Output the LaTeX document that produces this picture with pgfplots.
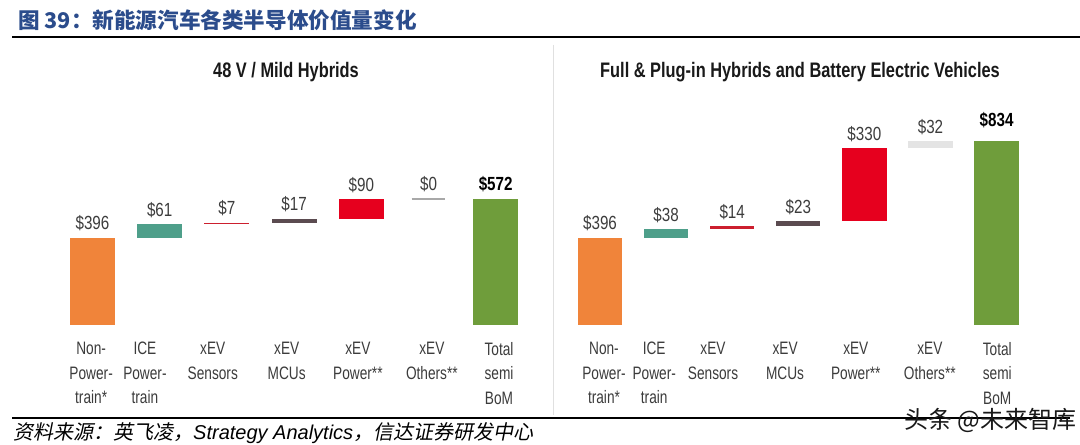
\documentclass[border=0pt]{standalone}
\usepackage{pgfplots}
\pgfplotsset{compat=1.18}
\usepackage{pgfplotstable}
\usepackage{fontspec}
\setmainfont{Liberation Sans}
\newfontfamily\cond{Liberation Sans}[FakeStretch=0.8]
\newfontfamily\condt{Liberation Sans}[FakeStretch=0.76]
\newfontfamily\condh{Liberation Sans}[FakeStretch=0.78]
\newfontfamily\cjk{Noto Sans CJK SC}
\newfontfamily\cjki{Noto Sans CJK SC}[FakeSlant=0.2]

\definecolor{cOrange}{HTML}{F0843A}
\definecolor{cTeal}{HTML}{4E9F8A}
\definecolor{cSens}{HTML}{CC1F2E}
\definecolor{cMcu}{HTML}{5B4B50}
\definecolor{cPow}{HTML}{E6001E}
\definecolor{cOthL}{HTML}{A8A8A8}
\definecolor{cOthR}{HTML}{E4E4E4}
\definecolor{cGreen}{HTML}{6F9D3B}
\definecolor{cHead}{HTML}{2B4C8C}
\definecolor{cTxt}{HTML}{3C3C3C}

% waterfall: base (invisible) + one delta column per category
\pgfplotstableread{
x base nonp ice sens mcu pow oth tot
0 0   396 0  0 0  0  0 0
1 396 0   61 0 0  0  0 0
2 457 0   0  7 0  0  0 0
3 464 0   0  0 17 0  0 0
4 481 0   0  0 0  90 0 0
5 571 0   0  0 0  0  0 0
6 0   0   0  0 0  0  0 572
}\leftdata
\pgfplotstableread{
x base nonp ice sens mcu pow oth tot
0 0   396 0  0  0  0   0  0
1 396 0   38 0  0  0   0  0
2 434 0   0  14 0  0   0  0
3 448 0   0  0  23 0   0  0
4 471 0   0  0  0  330 0  0
5 801 0   0  0  0  0   32 0
6 0   0   0  0  0  0   0  834
}\rightdata

\pgfplotsset{
  wfframe/.style={scale only axis, height=220.5bp, ymin=0, ymax=1000,
    xmin=-0.5, xmax=6.5, axis line style={draw=none}, tick style={draw=none},
    ytick=\empty, xtick=\empty, clip=false, anchor=south west},
  wfbars/.style={wfframe, ybar stacked, bar width=0.67},
  wflabs/.style={wfframe,
    xticklabel style={align=center, anchor=north, yshift=-17bp, inner sep=0pt,
      font=\condt\fontsize{18bp}{24.5bp}\selectfont, text=cTxt},
    xticklabels={{Non-\\Power-\\train*},{ICE\\Power-\\train},{xEV\\Sensors},{xEV\\MCUs},{xEV\\Power**},{xEV\\Others**},{Total\\semi\\BoM}}},
  vlab/.style={draw=none, mark=none, nodes near coords, point meta=explicit symbolic,
    nodes near coords style={anchor=base, yshift=8bp, inner sep=0pt,
      font=\cond\fontsize{19bp}{22bp}\selectfont, text=cTxt}},
  tlab/.style={draw=none, mark=none, nodes near coords, point meta=explicit symbolic,
    nodes near coords style={anchor=base, yshift=8bp, inner sep=0pt,
      font=\cond\bfseries\fontsize{19bp}{22bp}\selectfont, text=black}},
}

\begin{document}
\begin{tikzpicture}
\useasboundingbox (0bp,0bp) rectangle (1080bp,445bp);
\fill[white] (0bp,0bp) rectangle (1080bp,445bp);

% header
\node[anchor=west, inner sep=0pt, text=cHead, font=\cjk\bfseries\fontsize{21.6bp}{24bp}\selectfont] at (18bp,425bp) {图 39：新能源汽车各类半导体价值量变化};
\draw[line width=2.5bp, black] (12bp,408bp) -- (1080bp,408bp);
\draw[line width=2bp, black] (12bp,27bp) -- (1070bp,27bp);
\node[anchor=west, inner sep=0pt, text=black, font=\cjki\fontsize{20bp}{22bp}\selectfont] at (13bp,12bp) {资料来源：英飞凌，{\fontspec{Liberation Sans}\itshape\fontsize{20bp}{22bp}\selectfont Strategy Analytics}，信达证券研发中心};
% separator
\draw[line width=1bp, color=black!12] (553bp,400bp) -- (553bp,30bp);

% titles
\node[inner sep=0pt, font=\condh\bfseries\fontsize{21bp}{26bp}\selectfont, text=black!90] at (286bp,373bp) {48 V / Mild Hybrids};
\node[inner sep=0pt, font=\condh\bfseries\fontsize{21bp}{26bp}\selectfont, text=black!90] at (800bp,373bp) {Full \& Plug-in Hybrids and Battery Electric Vehicles};

% ---------- left panel ----------
\begin{axis}[wfbars, at={(58.9bp,120bp)}, width=470.4bp]
\addplot[fill=none, draw=none] table[x=x, y=base] {\leftdata};
\addplot[fill=cOrange, draw=none] table[x=x, y=nonp] {\leftdata};
\addplot[fill=cTeal, draw=none] table[x=x, y=ice] {\leftdata};
\addplot[fill=cSens, draw=none] table[x=x, y=sens] {\leftdata};
\addplot[fill=cMcu, draw=none] table[x=x, y=mcu] {\leftdata};
\addplot[fill=cPow, draw=none] table[x=x, y=pow] {\leftdata};
\addplot[fill=cOthL, draw=none] table[x=x, y=oth] {\leftdata};
\addplot[fill=cGreen, draw=none] table[x=x, y=tot] {\leftdata};
\end{axis}
\begin{axis}[wflabs, at={(58.9bp,120bp)}, width=470.4bp,
  xtick={-0.02,0.78,1.79,2.89,3.95,5.05,6.05}]
\addplot[cOthL, line width=2.5bp] coordinates {(4.75,571.5) (5.25,571.5)};
\addplot[vlab] coordinates {(0,396) [\$396] (1,457) [\$61] (2,464) [\$7] (3,481) [\$17] (4,571) [\$90] (5,572) [\$0]};
\addplot[tlab] coordinates {(6,572) [\$572]};
\end{axis}

% ---------- right panel ----------
\begin{axis}[wfbars, at={(566.95bp,120bp)}, width=462.7bp]
\addplot[fill=none, draw=none] table[x=x, y=base] {\rightdata};
\addplot[fill=cOrange, draw=none] table[x=x, y=nonp] {\rightdata};
\addplot[fill=cTeal, draw=none] table[x=x, y=ice] {\rightdata};
\addplot[fill=cSens, draw=none] table[x=x, y=sens] {\rightdata};
\addplot[fill=cMcu, draw=none] table[x=x, y=mcu] {\rightdata};
\addplot[fill=cPow, draw=none] table[x=x, y=pow] {\rightdata};
\addplot[fill=cOthR, draw=none] table[x=x, y=oth] {\rightdata};
\addplot[fill=cGreen, draw=none] table[x=x, y=tot] {\rightdata};
\end{axis}
\begin{axis}[wflabs, at={(566.95bp,120bp)}, width=462.7bp,
  xtick={0.06,0.82,1.71,2.80,3.87,4.99,6.01}]
\addplot[vlab] coordinates {(0,396) [\$396] (1,434) [\$38] (2,448) [\$14] (3,471) [\$23] (4,801) [\$330] (5,833) [\$32]};
\addplot[tlab, nodes near coords style={yshift=7bp}] coordinates {(6,834) [\$834]};
\end{axis}

% watermark
\node[anchor=west, inner sep=0pt, text=black!90, font=\cjk\fontsize{24bp}{28bp}\selectfont] at (904bp,25bp) {头条 @未来智库};
\end{tikzpicture}
\end{document}
